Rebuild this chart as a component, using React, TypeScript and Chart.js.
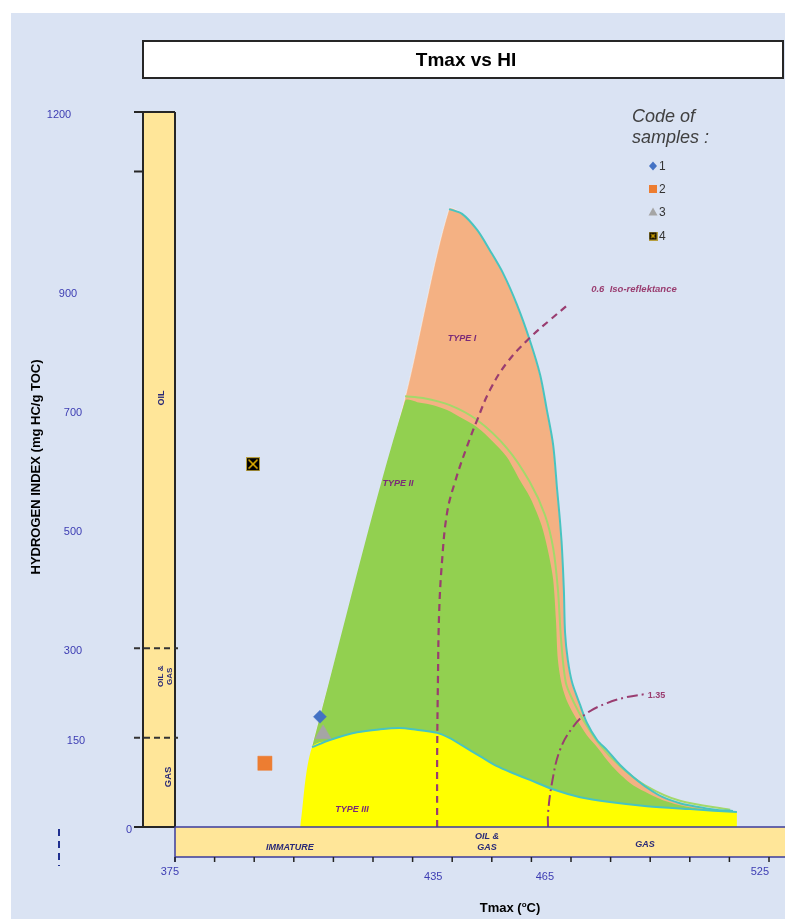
import React, { useEffect, useRef } from 'react';
import { Chart, registerables } from 'chart.js';

Chart.register(...registerables);

// ---------- DATA ----------
const typeITmax = [409.6, 433.1, 444.2, 447.5, 451.3, 454.5, 457.8, 461.4, 464.6, 467.2, 468.9, 470.5, 471.5, 472.2, 472.7, 473.2, 473.5, 474.2, 475.3, 477.3, 479.0, 481.6, 484.1, 487.4, 490.7, 494.4, 498.2, 502.5, 506.8, 511.4, 515.9];
const typeIHI = [134, 720, 1037, 1029, 1002, 968, 930, 876, 817, 759, 700, 641, 566, 515, 470, 398, 326, 280, 242, 205, 175, 146, 129, 104, 84, 65, 50, 40, 34, 29, 27];

const typeIITmax = [409.6, 433.1, 436.9, 440.2, 443.7, 447.5, 451.3, 455.1, 458.8, 462.1, 464.6, 466.4, 467.9, 469.4, 470.5, 471.2, 471.7, 472.7, 474.2, 476.5, 479.0, 481.6, 485.4, 489.9, 493.7, 498.2, 504.3, 510.1, 515.2];
const typeIIHI = [134, 715, 712, 708, 700, 686, 671, 648, 621, 582, 554, 527, 499, 457, 415, 347, 280, 238, 208, 180, 154, 134, 102, 74, 59, 45, 34, 29, 27];

const typeIIEdgeTmax = [433.1, 437.6, 444.4, 451.3, 458.8, 464.6, 468.4, 470.5, 471.7, 472.5, 473.7, 475.8, 478.5, 482.3, 487.4, 493.7, 502.5, 515.2];
const typeIIEdgeHI = [723, 720, 708, 683, 636, 579, 524, 468, 398, 314, 242, 208, 175, 138, 102, 70, 44, 29];

const typeIIITmax = [406.6, 409.6, 414.1, 421.0, 426.8, 431.8, 435.1, 441.2, 444.4, 447.7, 452.0, 456.3, 460.9, 464.6, 471.0, 477.3, 484.8, 494.2, 505.1, 516.9];
const typeIIIHI = [0, 134, 146, 159, 164, 166, 164, 158, 149, 136, 119, 102, 89, 79, 62, 50, 42, 35, 30, 25];

const iso06Tmax = [441.2, 441.2, 441.4, 441.7, 442.4, 443.7, 445.7, 448.7, 451.3, 454.5, 458.8, 464.6, 469.7, 474.7];
const iso06HI = [0, 117, 247, 359, 443, 527, 579, 638, 683, 733, 779, 821, 851, 879];

const iso135Tmax = [469.2, 469.2, 470.2, 472.2, 475.5, 479.0, 484.1, 489.1, 493.7];
const iso135HI = [0, 23, 74, 129, 168, 191, 208, 218, 223];

const sampleCodes = ['1', '2', '3', '4'];
const sampleTmax = [411.6, 397.7, 412.4, 394.7];
const sampleHI = [185, 107, 156, 609];

const xTickValues = [375, 385, 395, 405, 415, 425, 435, 445, 455, 465, 475, 485, 495, 505, 515, 525];
const xTickLabels = ['375', '435', '465', '525'];
const xTickLabelTmax = [373.7, 440.2, 468.4, 522.7];

const yTickLabels = ['1200', '900', '700', '500', '300', '150', '0'];
const yTickLabelHI = [1200, 900, 700, 500, 300, 150, 0];

const barSolidTicksHI = [1200, 1100, 0];
const barZoneBoundsHI = [300, 150];
const leftZoneLabels = ['OIL', 'OIL &|GAS', 'GAS'];
const leftZoneHI = [720, 253, 84];
const bottomZoneLabels = ['IMMATURE', 'OIL &|GAS', 'GAS'];
const bottomZoneTmax = [404.0, 453.8, 493.7];

const typeLabels = ['TYPE I', 'TYPE II', 'TYPE III'];
const typeLabelTmax = [447.5, 431.3, 419.7];
const typeLabelHI = [819, 577, 29];

const isoLabels = ['0.6  Iso-reflektance', '1.35'];
const isoLabelTmax = [480.1, 494.4];
const isoLabelHI = [903, 220];

// ---------- STYLE ----------
const SANS = "'Liberation Sans', Arial, sans-serif";
const BG = '#dae3f3';
const BAR_FILL = '#ffe699';
const NAVY = '#2a2a78';
const AXIS_BLUE = '#3d3db3';
const ISO = '#9a3d70';
const TYPE_TXT = '#7a2a78';
const CYAN = '#48c4c0';
const sampleColors = ['#4472c4', '#ed7d31', '#a5a5a5', '#000000'];

function pts(xs: number[], ys: number[]) {
  return xs.map((x, i) => ({ x, y: ys[i] }));
}

function makeCrossBox(size: number) {
  const c = document.createElement('canvas');
  c.width = size;
  c.height = size;
  const g = c.getContext('2d')!;
  g.fillStyle = '#b8a040';
  g.fillRect(0, 0, size, size);
  g.fillStyle = '#000';
  g.fillRect(1, 1, size - 2, size - 2);
  g.strokeStyle = '#e8b400';
  g.lineWidth = size > 10 ? 1.6 : 1.2;
  g.beginPath();
  g.moveTo(2.5, 2.5);
  g.lineTo(size - 2.5, size - 2.5);
  g.moveTo(size - 2.5, 2.5);
  g.lineTo(2.5, size - 2.5);
  g.stroke();
  return c;
}

let legendBox: HTMLCanvasElement;

const decorPlugin = {
  id: 'decor',
  beforeDraw(chart: any) {
    const { ctx } = chart;
    const W = chart.width;
    const H = chart.height;
    const xs = chart.scales.x;
    const ys = chart.scales.y;
    ctx.save();
    ctx.fillStyle = '#ffffff';
    ctx.fillRect(0, 0, W, H);
    ctx.fillStyle = BG;
    ctx.fillRect(11, 13, W - 11, H - 13);

    // title box
    ctx.fillStyle = '#ffffff';
    ctx.fillRect(143, 41, 640, 37);
    ctx.strokeStyle = '#262626';
    ctx.lineWidth = 2;
    ctx.strokeRect(143, 41, 640, 37);
    ctx.fillStyle = '#000';
    ctx.font = `bold 19px ${SANS}`;
    ctx.textAlign = 'center';
    ctx.textBaseline = 'middle';
    ctx.fillText('Tmax vs HI', 466, 61);

    // left zone bar
    const bx1 = xs.getPixelForValue(375);
    const bx0 = bx1 - 32;
    const yTop = ys.getPixelForValue(1200);
    const yBot = ys.getPixelForValue(0);
    ctx.fillStyle = BAR_FILL;
    ctx.fillRect(bx0, yTop, bx1 - bx0, yBot - yTop);
    ctx.strokeStyle = '#262626';
    ctx.lineWidth = 2;
    ctx.beginPath();
    ctx.moveTo(bx0, yTop);
    ctx.lineTo(bx0, yBot);
    ctx.moveTo(bx1, yTop);
    ctx.lineTo(bx1, yBot);
    ctx.moveTo(bx0, yTop);
    ctx.lineTo(bx1, yTop);
    ctx.moveTo(bx0, yBot);
    ctx.lineTo(bx1, yBot);
    barSolidTicksHI.forEach((v) => {
      const y = ys.getPixelForValue(v);
      ctx.moveTo(bx0 - 9, y);
      ctx.lineTo(bx0, y);
    });
    ctx.stroke();
    ctx.setLineDash([6, 4]);
    ctx.strokeStyle = '#333';
    ctx.beginPath();
    barZoneBoundsHI.forEach((v) => {
      const y = ys.getPixelForValue(v);
      ctx.moveTo(bx0 - 9, y);
      ctx.lineTo(bx1 + 3, y);
    });
    ctx.stroke();
    ctx.setLineDash([]);

    // left zone labels (rotated)
    const lzOffsets = [19, 22, 25];
    const lzSizes = [9, 8, 9.5];
    ctx.fillStyle = NAVY;
    leftZoneLabels.forEach((lab, i) => {
      const lines = lab.split('|');
      ctx.save();
      ctx.translate(bx0 + lzOffsets[i], ys.getPixelForValue(leftZoneHI[i]));
      ctx.rotate(-Math.PI / 2);
      ctx.font = `bold ${lzSizes[i]}px ${SANS}`;
      ctx.textAlign = 'center';
      ctx.textBaseline = 'middle';
      lines.forEach((ln, j) => {
        const off = (j - (lines.length - 1) / 2) * 9;
        ctx.fillText(ln, 0, off);
      });
      ctx.restore();
    });

    // y tick labels
    const yLabelCx = [59, 68, 73, 73, 73, 76, 129];
    ctx.fillStyle = AXIS_BLUE;
    ctx.font = `11px ${SANS}`;
    ctx.textAlign = 'center';
    ctx.textBaseline = 'middle';
    yTickLabels.forEach((lab, i) => {
      ctx.fillText(lab, yLabelCx[i], ys.getPixelForValue(yTickLabelHI[i]) + 3);
    });

    // y axis title
    ctx.save();
    ctx.translate(36, 467);
    ctx.rotate(-Math.PI / 2);
    ctx.fillStyle = '#000';
    ctx.font = `bold 13px ${SANS}`;
    ctx.textAlign = 'center';
    ctx.textBaseline = 'middle';
    ctx.fillText('HYDROGEN INDEX (mg HC/g TOC)', 0, 0);
    ctx.restore();

    // small blue dashed mark
    ctx.strokeStyle = '#1f2f8f';
    ctx.lineWidth = 2;
    ctx.setLineDash([7, 5]);
    ctx.beginPath();
    ctx.moveTo(59, 829);
    ctx.lineTo(59, 866);
    ctx.stroke();
    ctx.setLineDash([]);
    ctx.restore();
  },
  afterDatasetsDraw(chart: any) {
    const { ctx } = chart;
    const W = chart.width;
    const xs = chart.scales.x;
    const ys = chart.scales.y;
    ctx.save();

    // bottom zone bar
    const x0 = xs.getPixelForValue(375);
    const y0 = ys.getPixelForValue(0);
    const y1 = y0 + 30;
    ctx.fillStyle = BAR_FILL;
    ctx.fillRect(x0, y0, W - x0, y1 - y0);
    ctx.strokeStyle = '#3c3c9c';
    ctx.lineWidth = 1.5;
    ctx.beginPath();
    ctx.moveTo(x0, y0);
    ctx.lineTo(W, y0);
    ctx.moveTo(x0, y1);
    ctx.lineTo(W, y1);
    ctx.moveTo(x0, y0);
    ctx.lineTo(x0, y1 + 5);
    ctx.stroke();
    ctx.strokeStyle = '#222';
    ctx.beginPath();
    xTickValues.forEach((v) => {
      const x = xs.getPixelForValue(v);
      ctx.moveTo(x, y1);
      ctx.lineTo(x, y1 + 5);
    });
    ctx.stroke();

    // bottom zone labels
    const bzDy = [-9, -20, -12];
    ctx.fillStyle = NAVY;
    ctx.font = `italic bold 9px ${SANS}`;
    ctx.textAlign = 'center';
    ctx.textBaseline = 'middle';
    bottomZoneLabels.forEach((lab, i) => {
      const lines = lab.split('|');
      lines.forEach((ln, j) => {
        ctx.fillText(ln, xs.getPixelForValue(bottomZoneTmax[i]), y1 + bzDy[i] + j * 11);
      });
    });

    // x tick labels
    const xLabelDy = [15, 20, 20, 15];
    ctx.fillStyle = AXIS_BLUE;
    ctx.font = `11px ${SANS}`;
    xTickLabels.forEach((lab, i) => {
      ctx.fillText(lab, xs.getPixelForValue(xTickLabelTmax[i]), y1 + xLabelDy[i]);
    });

    // x axis title with superscript
    ctx.fillStyle = '#000';
    ctx.textAlign = 'left';
    ctx.textBaseline = 'alphabetic';
    ctx.font = `bold 13px ${SANS}`;
    const a = 'Tmax (';
    const c = 'C)';
    const wa = ctx.measureText(a).width;
    const wc = ctx.measureText(c).width;
    ctx.font = `bold 8px ${SANS}`;
    const wb = ctx.measureText('o').width;
    let sx = 510 - (wa + wb + wc) / 2;
    const by = 912;
    ctx.font = `bold 13px ${SANS}`;
    ctx.fillText(a, sx, by);
    sx += wa;
    ctx.font = `bold 8px ${SANS}`;
    ctx.fillText('o', sx, by - 5);
    sx += wb;
    ctx.font = `bold 13px ${SANS}`;
    ctx.fillText(c, sx, by);

    // type labels
    ctx.fillStyle = TYPE_TXT;
    ctx.font = `italic bold 9px ${SANS}`;
    ctx.textAlign = 'center';
    ctx.textBaseline = 'middle';
    typeLabels.forEach((lab, i) => {
      ctx.fillText(lab, xs.getPixelForValue(typeLabelTmax[i]), ys.getPixelForValue(typeLabelHI[i]));
    });

    // iso labels
    ctx.fillStyle = ISO;
    ctx.textAlign = 'left';
    const isoSizes = [9.5, 9];
    isoLabels.forEach((lab, i) => {
      ctx.font = `${i === 0 ? 'italic ' : ''}bold ${isoSizes[i]}px ${SANS}`;
      ctx.fillText(lab, xs.getPixelForValue(isoLabelTmax[i]), ys.getPixelForValue(isoLabelHI[i]));
    });

    // legend
    ctx.fillStyle = '#404040';
    ctx.font = `italic 18px ${SANS}`;
    ctx.textAlign = 'left';
    ctx.textBaseline = 'middle';
    ctx.fillText('Code of', 632, 117);
    ctx.fillText('samples :', 632, 138);
    const legY = [166, 189, 212, 236];
    const mx = 653;
    sampleCodes.forEach((code, i) => {
      const y = legY[i];
      ctx.fillStyle = sampleColors[i];
      if (i === 0) {
        ctx.beginPath();
        ctx.moveTo(mx, y - 4.5);
        ctx.lineTo(mx + 4, y);
        ctx.lineTo(mx, y + 4.5);
        ctx.lineTo(mx - 4, y);
        ctx.closePath();
        ctx.fill();
      } else if (i === 1) {
        ctx.fillRect(mx - 4, y - 4, 8, 8);
      } else if (i === 2) {
        ctx.beginPath();
        ctx.moveTo(mx, y - 4.5);
        ctx.lineTo(mx + 4.5, y + 3.5);
        ctx.lineTo(mx - 4.5, y + 3.5);
        ctx.closePath();
        ctx.fill();
      } else if (legendBox) {
        ctx.drawImage(legendBox, mx - 4.5, y - 4.5, 9, 9);
      }
      ctx.fillStyle = '#333';
      ctx.font = `12px ${SANS}`;
      ctx.fillText(code, mx + 6, y + 1);
    });
    ctx.restore();
  },
};

export default function App() {
  const ref = useRef<HTMLCanvasElement>(null);
  useEffect(() => {
    document.body.style.margin = '0';
    legendBox = makeCrossBox(9);
    const bigBox = makeCrossBox(14);
    const sampleStyles: any[] = ['rectRot', 'rect', 'triangle', bigBox];
    const sampleRadius = [6.5, 10, 9.3, 7];
    const smooth = { tension: 0.3 };

    const datasets: any[] = [
      {
        label: 'Type I',
        data: pts(typeITmax, typeIHI),
        showLine: true,
        fill: 'origin',
        backgroundColor: '#f4b183',
        borderColor: 'rgba(255,255,255,0.45)',
        borderWidth: 1,
        pointRadius: 0,
        order: 20,
        ...smooth,
      },
      {
        label: 'Type I edge',
        data: pts(typeITmax.slice(2), typeIHI.slice(2)),
        showLine: true,
        fill: false,
        borderColor: CYAN,
        borderWidth: 2,
        pointRadius: 0,
        order: 15,
        ...smooth,
      },
      {
        label: 'Type II',
        data: pts(typeIITmax, typeIIHI),
        showLine: true,
        fill: 'origin',
        backgroundColor: '#92d050',
        borderColor: 'rgba(0,0,0,0)',
        borderWidth: 1,
        pointRadius: 0,
        order: 18,
        ...smooth,
      },
      {
        label: 'Type II edge',
        data: pts(typeIIEdgeTmax, typeIIEdgeHI),
        showLine: true,
        fill: false,
        borderColor: '#a3d96a',
        borderWidth: 2,
        pointRadius: 0,
        order: 17,
        ...smooth,
      },
      {
        label: 'Type III',
        data: pts(typeIIITmax, typeIIIHI),
        showLine: true,
        fill: 'origin',
        backgroundColor: '#ffff00',
        borderColor: 'rgba(0,0,0,0)',
        borderWidth: 1,
        pointRadius: 0,
        order: 12,
        ...smooth,
      },
      {
        label: 'Type III edge',
        data: pts(typeIIITmax.slice(1), typeIIIHI.slice(1)),
        showLine: true,
        fill: false,
        borderColor: CYAN,
        borderWidth: 2,
        pointRadius: 0,
        order: 11,
        ...smooth,
      },
      {
        label: '0.6 Iso-reflektance',
        data: pts(iso06Tmax, iso06HI),
        showLine: true,
        fill: false,
        borderColor: ISO,
        borderWidth: 2.2,
        borderDash: [7, 5],
        pointRadius: 0,
        tension: 0.4,
        order: 5,
      },
      {
        label: '1.35',
        data: pts(iso135Tmax, iso135HI),
        showLine: true,
        fill: false,
        borderColor: ISO,
        borderWidth: 2,
        borderDash: [11, 4, 2, 4],
        pointRadius: 0,
        tension: 0.4,
        order: 4,
      },
      ...sampleCodes.map((code, i) => ({
        label: code,
        data: [{ x: sampleTmax[i], y: sampleHI[i] }],
        showLine: false,
        pointStyle: sampleStyles[i],
        pointRadius: sampleRadius[i],
        pointBackgroundColor: sampleColors[i],
        pointBorderColor: sampleColors[i],
        pointBorderWidth: 0.5,
        order: 1,
      })),
    ];

    const chart = new Chart(ref.current!, {
      type: 'scatter',
      data: { datasets },
      options: {
        animation: false,
        responsive: false,
        events: [],
        layout: { padding: { left: 175, right: 16, top: 112, bottom: 92 } },
        scales: {
          x: { type: 'linear', min: 375, max: 525, display: false },
          y: { type: 'linear', min: 0, max: 1200, display: false },
        },
        plugins: {
          legend: { display: false },
          tooltip: { enabled: false },
          title: { display: false },
        },
      },
      plugins: [decorPlugin],
    } as any);
    return () => chart.destroy();
  }, []);

  return (
    <div style={{ position: 'absolute', left: 0, top: 0, width: 785, height: 919 }}>
      <canvas ref={ref} width={785} height={919} style={{ display: 'block', width: 785, height: 919 }} />
    </div>
  );
}
